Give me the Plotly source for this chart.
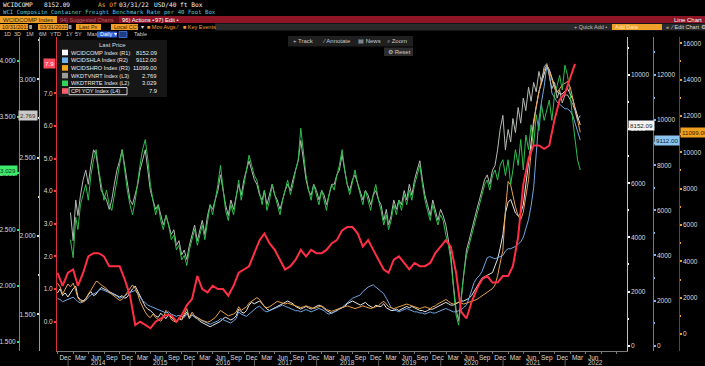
import pandas as pd
import plotly.graph_objects as go

W, H = 705, 366
SANS = 'Liberation Sans Narrow, Arial Narrow, Liberation Sans, Arial, sans-serif'
MONO = 'DejaVu Sans Mono, Liberation Mono, monospace'

# ---------------- data ----------------
# US CPI YoY (L4), month-end, Oct-2013 .. Feb-2022
cpi_yoy = [1.5, 1.1, 1.5,
           1.6, 1.1, 1.5, 2.0, 2.1, 2.1, 2.0, 1.7, 1.7, 1.7, 1.3, 0.8,
           -0.1, 0.0, -0.1, -0.2, 0.0, 0.1, 0.2, 0.2, 0.0, 0.2, 0.5, 0.7,
           1.4, 1.0, 0.9, 1.1, 1.0, 1.0, 0.8, 1.1, 1.5, 1.6, 1.7, 2.1,
           2.5, 2.7, 2.4, 2.2, 1.9, 1.6, 1.7, 1.9, 2.2, 2.0, 2.2, 2.1,
           2.1, 2.2, 2.4, 2.5, 2.8, 2.9, 2.9, 2.7, 2.3, 2.5, 2.2, 1.9,
           1.6, 1.5, 1.9, 2.0, 1.8, 1.6, 1.8, 1.7, 1.7, 1.8, 2.1, 2.3,
           2.5, 2.3, 1.5, 0.3, 0.1, 0.6, 1.0, 1.3, 1.4, 1.2, 1.2, 1.4,
           1.4, 1.7, 2.6, 4.2, 5.0, 5.4, 5.4, 5.3, 5.4, 6.2, 6.8, 7.0,
           7.5, 7.9]

# WCI composite (R1), semi-monthly from 31-Oct-2013
wcidcomp = [1950, 2100, 1850, 1950, 1800,
            1950, 2100, 2200, 1800, 1700, 1650, 1750, 1900, 2000, 1850, 1900, 2050, 2150, 2100, 2050, 2000, 1950, 1900, 1850, 1800, 1850, 1750, 1800, 1950,
            2100, 2200, 2000, 1800, 1600, 1450, 1350, 1300, 1200, 1100, 1050, 1200, 1100, 1000, 1150, 1050, 950, 900, 1000, 950, 1100, 1250, 1000, 1150,
            1050, 1000, 900, 850, 800, 750, 700, 750, 800, 850, 900, 1000, 1050, 1000, 950, 1000, 1100, 1350, 1250, 1200, 1300, 1500, 1600, 1550,
            1600, 1650, 1550, 1450, 1350, 1300, 1350, 1400, 1450, 1500, 1550, 1600, 1650, 1600, 1550, 1450, 1400, 1350, 1400, 1450, 1400, 1350, 1400, 1450,
            1500, 1450, 1350, 1300, 1250, 1200, 1250, 1300, 1350, 1400, 1450, 1550, 1600, 1650, 1600, 1550, 1500, 1550, 1600, 1500, 1450, 1400, 1500, 1450,
            1450, 1550, 1400, 1350, 1300, 1300, 1350, 1300, 1350, 1400, 1450, 1400, 1450, 1400, 1350, 1300, 1300, 1250, 1300, 1350, 1350, 1400, 1450, 1500,
            1550, 1600, 1550, 1500, 1500, 1550, 1600, 1650, 1650, 1700, 1750, 1850, 2000, 2200, 2350, 2500, 2550, 2600, 2650, 2700, 2950, 3200, 3600, 4100,
            4900, 5300, 5400, 5200, 4900, 4800, 4900, 5200, 5900, 6700, 7500, 8300, 8900, 9400, 9700, 10000, 10350, 10200, 9900, 9600, 9400, 9300, 9300, 9400,
            9500, 9300, 9100, 8800, 8500, 8152.09]

# Shanghai - Los Angeles (R2)
wcidshla = [2100, 2050, 1950, 2000, 2050,
            2100, 2150, 2050, 1950, 1900, 1950, 2000, 2150, 2250, 2300, 2350, 2450, 2500, 2450, 2400, 2350, 2300, 2250, 2200, 2100, 2150, 2200, 2300, 2350,
            2400, 2450, 2300, 2150, 2000, 1900, 1800, 1750, 1700, 1650, 1600, 1550, 1500, 1450, 1500, 1400, 1350, 1300, 1350, 1300, 1250, 1400, 1300, 1350,
            1300, 1250, 1150, 1100, 1050, 1000, 950, 1000, 1050, 1100, 1200, 1150, 1100, 1050, 1000, 1100, 1200, 1500, 1400, 1350, 1300, 1400, 1500, 1600,
            1700, 1750, 1650, 1550, 1500, 1550, 1600, 1650, 1700, 1750, 1800, 1750, 1700, 1650, 1600, 1550, 1550, 1500, 1550, 1600, 1550, 1500, 1550, 1600,
            1650, 1600, 1550, 1450, 1400, 1450, 1500, 1550, 1650, 1700, 1800, 1900, 2000, 2100, 2150, 2200, 2250, 2400, 2500, 2600, 2650, 2700, 2600, 2500,
            2400, 2300, 2100, 1900, 1700, 1600, 1550, 1500, 1550, 1600, 1650, 1600, 1550, 1500, 1500, 1450, 1450, 1400, 1450, 1500, 1450, 1450, 1500, 1550,
            1600, 1650, 1600, 1550, 1500, 1500, 1550, 1600, 1700, 1800, 2100, 2500, 2800, 3000, 3100, 3300, 3600, 3900, 3950, 3900, 3850, 3900, 3950, 4000,
            4200, 4300, 4300, 4350, 4400, 4500, 4600, 4800, 5200, 5600, 6200, 7000, 8500, 10000, 10800, 11500, 12400, 12100, 11200, 11000, 10800, 10700, 10600, 10500,
            10500, 10400, 10200, 9900, 9500, 9112.00]

# Shanghai - Rotterdam (R3)
wcidshro = [2800, 2600, 2200, 2500, 2750,
            2600, 2800, 2400, 2000, 1800, 1750, 1900, 2200, 2400, 2700, 2900, 2850, 2700, 2600, 2500, 2300, 2200, 2100, 2000, 1850, 1900, 2100, 2300, 2500,
            2700, 2500, 2200, 1800, 1500, 1200, 1000, 900, 1100, 900, 800, 700, 900, 1300, 1100, 800, 700, 650, 900, 800, 1100, 1400, 900, 1200,
            1000, 900, 800, 750, 700, 650, 700, 800, 900, 1100, 1300, 1200, 1100, 1000, 1050, 1100, 1200, 1500, 1300, 1400, 1500, 1700, 1800, 1900,
            2000, 1900, 1700, 1500, 1450, 1500, 1600, 1700, 1800, 1750, 1700, 1650, 1700, 1650, 1600, 1550, 1500, 1450, 1500, 1550, 1500, 1450, 1400, 1450,
            1500, 1550, 1450, 1350, 1300, 1250, 1300, 1350, 1400, 1450, 1500, 1550, 1500, 1450, 1400, 1450, 1500, 1550, 1500, 1450, 1400, 1450, 1500, 1550,
            1700, 1800, 1650, 1500, 1450, 1400, 1450, 1500, 1550, 1600, 1650, 1600, 1550, 1500, 1450, 1400, 1450, 1500, 1450, 1400, 1500, 1550, 1650, 1750,
            1850, 1900, 1800, 1700, 1650, 1700, 1750, 1700, 1650, 1700, 1750, 1800, 1850, 1900, 2000, 2100, 2200, 2300, 2400, 2500, 2700, 3200, 3900, 4600,
            6800, 8400, 8200, 7600, 7000, 6500, 6300, 6700, 7500, 8500, 10000, 11500, 12500, 13300, 14000, 14500, 14800, 14500, 14000, 13500, 13300, 13500, 13700, 13800,
            13900, 13600, 13000, 12400, 11800, 11099.00]

# WKDTVNRT (L3), semi-monthly from 15-Jan-2014
wkdtvnrt = [2.15, 1.97, 2.23, 2.13, 2.26, 2.36, 2.42, 2.33, 2.45, 2.55, 2.52, 2.39, 2.29, 2.26, 2.23, 2.17, 2.23, 2.33, 2.42, 2.48, 2.55, 2.45, 2.33, 2.23,
            2.20, 2.26, 2.33, 2.42, 2.48, 2.55, 2.42, 2.29, 2.23, 2.17, 2.20, 2.13, 2.07, 2.13, 2.07, 2.01, 2.04, 1.94, 1.97, 1.88, 1.91, 1.85, 1.94, 2.01,
            2.07, 1.97, 2.04, 2.10, 2.01, 2.13, 2.20, 2.17, 2.23, 2.29, 2.39, 2.29, 2.20, 2.13, 2.23, 2.17, 2.26, 2.33, 2.26, 2.36, 2.42, 2.48, 2.42, 2.36,
            2.33, 2.26, 2.23, 2.29, 2.20, 2.26, 2.33, 2.26, 2.23, 2.17, 2.23, 2.29, 2.33, 2.29, 2.36, 2.42, 2.48, 2.61, 2.48, 2.36, 2.29, 2.26, 2.33, 2.29,
            2.23, 2.29, 2.26, 2.20, 2.26, 2.33, 2.33, 2.39, 2.42, 2.52, 2.42, 2.33, 2.29, 2.36, 2.39, 2.33, 2.29, 2.23, 2.29, 2.26, 2.20, 2.26, 2.29, 2.23,
            2.20, 2.10, 2.17, 2.07, 2.13, 2.23, 2.17, 2.23, 2.20, 2.29, 2.23, 2.33, 2.26, 2.36, 2.42, 2.48, 2.36, 2.26, 2.20, 2.13, 2.23, 2.17, 2.10, 2.17,
            2.13, 2.07, 1.97, 1.88, 1.69, 1.53, 1.46, 1.62, 1.78, 1.91, 1.97, 2.04, 2.10, 2.17, 2.23, 2.29, 2.36, 2.39, 2.33, 2.42, 2.45, 2.55, 2.68, 2.77,
            2.55, 2.68, 2.60, 2.75, 2.66, 2.82, 2.72, 2.88, 2.80, 2.95, 2.86, 2.98, 2.92, 3.05, 2.98, 3.08, 3.10, 3.02, 2.94, 2.98, 2.88, 2.93, 2.85, 2.90,
            2.90, 2.87, 2.84, 2.80, 2.74, 2.769]

# WKDTRRTE (L2), semi-monthly from 15-Jan-2014
wkdtrrte = [2.41, 2.25, 2.61, 2.50, 2.72, 2.81, 2.90, 2.76, 2.98, 3.12, 3.21, 3.03, 2.90, 2.76, 2.85, 2.72, 2.67, 2.81, 2.94, 3.07, 3.21, 3.03, 2.85, 2.72,
            2.63, 2.76, 2.94, 3.07, 3.21, 3.30, 3.12, 2.90, 2.76, 2.63, 2.72, 2.58, 2.50, 2.63, 2.54, 2.41, 2.45, 2.32, 2.36, 2.23, 2.27, 2.18, 2.32, 2.41,
            2.50, 2.36, 2.45, 2.54, 2.41, 2.58, 2.72, 2.63, 2.76, 2.90, 3.07, 2.85, 2.67, 2.58, 2.72, 2.63, 2.81, 2.94, 2.76, 2.90, 3.03, 3.16, 3.07, 2.98,
            2.94, 2.81, 2.72, 2.85, 2.67, 2.76, 2.90, 2.81, 2.72, 2.63, 2.76, 2.85, 2.94, 2.81, 2.90, 3.03, 3.12, 3.40, 3.21, 2.98, 2.85, 2.76, 2.90, 2.81,
            2.72, 2.85, 2.76, 2.67, 2.81, 2.90, 2.85, 2.98, 3.07, 3.21, 3.03, 2.90, 2.81, 2.94, 3.03, 2.90, 2.81, 2.72, 2.85, 2.76, 2.67, 2.81, 2.90, 2.76,
            2.67, 2.54, 2.63, 2.50, 2.58, 2.72, 2.63, 2.76, 2.67, 2.81, 2.72, 2.85, 2.76, 2.90, 2.98, 3.07, 2.90, 2.76, 2.67, 2.58, 2.72, 2.63, 2.54, 2.63,
            2.58, 2.45, 2.36, 2.23, 1.96, 1.74, 1.65, 1.87, 2.10, 2.27, 2.36, 2.45, 2.54, 2.63, 2.72, 2.81, 2.90, 2.94, 2.85, 2.98, 3.03, 2.94, 3.07, 3.12,
            2.98, 3.12, 2.90, 3.03, 3.21, 3.07, 3.30, 3.03, 3.34, 3.21, 3.43, 3.25, 3.52, 3.38, 3.61, 3.47, 3.56, 3.65, 3.47, 3.70, 3.78, 3.87, 3.74, 3.96,
            3.87, 3.70, 3.47, 3.30, 3.12, 3.029]

month_labels = ['Dec', 'Mar', 'Jun', 'Sep']
year_labels = ['2014', '2015', '2016', '2017', '2018', '2019', '2020', '2021', '2022']

legend_names = ['WCIDCOMP Index (R1)', 'WCIDSHLA Index (R2)', 'WCIDSHRO Index (R3)',
                'WKDTVNRT Index (L3)', 'WKDTRRTE Index (L2)', 'CPI YOY Index (L4)']
legend_values = ['8152.09', '9112.00', '11099.00', '2.769', '3.029', '7.9']

# ---------------- dates ----------------
semi = pd.offsets.SemiMonthEnd()
mend = pd.offsets.MonthEnd()
d_cpi = pd.date_range('2013-10-31', periods=len(cpi_yoy), freq=mend)
d_comp = pd.date_range('2013-10-31', periods=len(wcidcomp), freq=semi)
d_shla = pd.date_range('2013-10-31', periods=len(wcidshla), freq=semi)
d_shro = pd.date_range('2013-10-31', periods=len(wcidshro), freq=semi)
d_vn = pd.date_range('2014-01-15', periods=len(wkdtvnrt), freq=semi)
d_rr = pd.date_range('2014-01-15', periods=len(wkdtrrte), freq=semi)

# colours
C_WHITE, C_BLUE, C_ORANGE = '#e6e6e6', '#6ea6e0', '#e9a24a'
C_GREY, C_GREEN, C_RED = '#b4bab4', '#2fbf4e', '#ff2f45'

fig = go.Figure()
fig.add_trace(go.Scatter(x=d_comp, y=wcidcomp, yaxis='y', mode='lines', line=dict(color=C_WHITE, width=1)))
fig.add_trace(go.Scatter(x=d_shla, y=wcidshla, yaxis='y2', mode='lines', line=dict(color=C_BLUE, width=1)))
fig.add_trace(go.Scatter(x=d_shro, y=wcidshro, yaxis='y3', mode='lines', line=dict(color=C_ORANGE, width=1)))
fig.add_trace(go.Scatter(x=d_vn, y=wkdtvnrt, yaxis='y4', mode='lines', line=dict(color=C_GREY, width=1)))
fig.add_trace(go.Scatter(x=d_rr, y=wkdtrrte, yaxis='y5', mode='lines', line=dict(color=C_GREEN, width=1)))
fig.add_trace(go.Scatter(x=d_cpi, y=cpi_yoy, yaxis='y6', mode='lines', line=dict(color=C_RED, width=2)))

# ---------------- layout geometry (pixels) ----------------
X_L, X_R = 57, 626.7
Y_T, Y_B = 37, 350.7
dom_y = [1 - Y_B / H, 1 - Y_T / H]
tickfont = dict(family=SANS, size=6.5, color='#dcdcdc')


def yax(rng, tickvals, fmt, linecolor, tickcolor, side, anchor='free', pos=None, minor=None, overlay=True):
    d = dict(range=rng, domain=dom_y, side=side, showgrid=False, zeroline=False,
             showline=True, linecolor=linecolor, linewidth=1,
             ticks='outside', ticklen=2, tickwidth=1.5, tickcolor=tickcolor,
             tickmode='array', tickvals=tickvals,
             ticktext=[format(v, fmt) for v in tickvals], tickfont=tickfont,
             anchor=anchor)
    if pos is not None:
        d['position'] = pos
    if overlay:
        d['overlaying'] = 'y'
    if minor is not None:
        d['minor'] = dict(ticks='outside', ticklen=1.5, tickcolor=tickcolor, dtick=minor, showgrid=False)
    return d


ticks_r1 = [0, 2000, 4000, 6000, 8000, 10000]
ticks_r2 = [0, 2000, 4000, 6000, 8000, 10000, 12000]
ticks_r3 = [0, 2000, 4000, 6000, 8000, 10000, 12000, 14000, 16000]
ticks_l3 = [1.5, 2.0, 2.5, 3.0]
ticks_l2 = [1.5, 2.0, 2.5, 3.0, 3.5, 4.0]
ticks_l4 = [0.0, 1.0, 2.0, 3.0, 4.0, 5.0, 6.0, 7.0]

layout_axes = dict(
    yaxis=yax([-185, 11404], ticks_r1, 'd', '#bdbdbd', '#ffffff', 'right', anchor='x', minor=1000, overlay=False),
    yaxis2=yax([-222, 13684], ticks_r2, 'd', '#5f7f9f', '#7fb4ea', 'right', pos=652.7 / W, minor=1000),
    yaxis3=yax([-919, 16347], ticks_r3, 'd', '#6e4418', '#f0a030', 'right', pos=678.7 / W, minor=1000),
    yaxis4=yax([1.268, 3.270], ticks_l3, '.3f', '#9a9a9a', '#dddddd', 'left', pos=39 / W, minor=0.25),
    yaxis5=yax([1.423, 4.211], ticks_l2, '.3f', '#2fb84a', '#3ee060', 'left', pos=19 / W),
    yaxis6=yax([-0.889, 8.725], ticks_l4, '.1f', '#e0303f', '#ff3a4a', 'left', anchor='x'),
)

tick_dates = pd.date_range('2013-12-15', '2022-06-15', freq=pd.DateOffset(months=3))
tick_text = [month_labels[i % 4] for i in range(len(tick_dates))]

fig.update_layout(
    width=W, height=H, margin=dict(l=0, r=0, t=0, b=0),
    paper_bgcolor='#000000', plot_bgcolor='#000000', showlegend=False,
    xaxis=dict(type='date', domain=[X_L / W, X_R / W], range=['2013-10-28', '2022-12-29'],
               showgrid=False, zeroline=False, showline=True, linecolor='#7a7a7a', linewidth=1,
               tickmode='array', tickvals=list(tick_dates), ticktext=tick_text, ticks='', tickfont=tickfont,
               minor=dict(ticks='outside', ticklen=2, tickcolor='#777777', dtick='M3', tick0='2013-11-01')),
    **layout_axes,
)

shapes, anns = [], []


def rect(x0, y0, x1, y1, fill, line=None, lw=0):
    shapes.append(dict(type='rect', xref='paper', yref='paper', x0=x0 / W, x1=x1 / W,
                       y0=1 - y1 / H, y1=1 - y0 / H, fillcolor=fill,
                       line=dict(color=line or fill, width=lw), layer='above'))


def text(x, y, s, color='#d0d0d0', size=6.5, anchor='left', family=SANS):
    anns.append(dict(xref='paper', yref='paper', x=x / W, y=1 - y / H, text=s, showarrow=False,
                     xanchor=anchor, yanchor='middle', borderpad=0,
                     font=dict(family=family, size=size, color=color)))


def flag(x, anchor, yref, yval, s, bg, fg):
    anns.append(dict(xref='paper', yref=yref, x=x / W, y=yval, text=s, showarrow=False,
                     xanchor=anchor, yanchor='middle', bgcolor=bg, borderpad=1,
                     font=dict(family=SANS, size=6.2, color=fg)))


# ---- header ----
text(2, 4.5, 'WCIDCOMP', '#f2f2f2', 6.2, family=MONO)
text(43, 4.5, '8152.09', '#f2f2f2', 6.2, family=MONO)
text(97, 4.5, 'As Of', '#f0a030', 6.2, family=MONO)
text(118, 4.5, '03/31/22', '#f2f2f2', 6.2, family=MONO)
text(153, 4.5, 'USD/40 ft Box', '#f2f2f2', 6.2, family=MONO)
text(2, 12.3, 'WCI Composite Container Freight Benchmark Rate per 40 Foot Box', '#5cc6dc', 5.7, family=MONO)

rect(0, 16, W, 23, '#8e1526')
rect(0, 16, 57, 23, '#eea02a')
text(2, 19.5, 'WCIDCOMP Index', '#3a2200', 6)
rect(57, 16, 119, 23, '#5e0c16')
text(59, 19.5, '94) Suggested Charts', '#b06070', 5.5)
text(121, 19.5, '96) Actions •', '#ffffff', 5.8)
text(154, 19.5, '97) Edit •', '#ffffff', 5.8)
text(703, 19.5, 'Line Chart', '#ffffff', 6, anchor='right')

rect(215, 23.5, W, 30.5, '#2a2a2a')
rect(0, 24, 28, 30, '#eea02a'); text(1, 27, '10/31/2013', '#3a2200', 5.5)
rect(29, 25, 32, 29, '#9a9a9a')
rect(38, 24, 68, 30, '#eea02a'); text(39, 27, '03/31/2022', '#3a2200', 5.5)
rect(68.5, 25, 71.5, 29, '#9a9a9a')
rect(76, 24, 101, 30, '#eea02a'); text(78, 27, 'Last Px', '#3a2200', 5.5)
rect(111, 24, 138, 30, '#eea02a'); text(113, 27, 'Local CCY', '#3a2200', 5.5)
text(140, 27, '▾', '#dddddd', 5.5)
text(146, 27, '■ Mov Avgs ⁄', '#f0a030', 5.5)
text(182, 27, '■ Key Events', '#f0a030', 5.5)
text(608, 27, '+ Quick Add •', '#bdbdbd', 5.5, anchor='right')
rect(612, 24, 662, 30, '#eea02a'); text(614, 27, 'Add Data', '#ffe9b0', 5.5)
text(665, 27, '«  ⁄ Edit Chart ⚙', '#dddddd', 5.5)

for lbl, xx in [('1D', 3), ('3D', 13), ('1M', 25), ('6M', 38), ('YTD', 49), ('1Y', 65), ('5Y', 74), ('Max', 86)]:
    text(xx, 34.5, lbl, '#cfcfcf', 5.5)
rect(97, 31.5, 117, 37.5, '#2d5fd6'); text(99, 34.5, 'Daily ▾', '#ffffff', 5.5)
rect(119, 31.5, 127, 37.5, '#1d3d8a', '#4a7ae0', 0.8)
text(133, 34.5, 'Table', '#cfcfcf', 5.5)

# ---- chart toolbar ----
rect(288, 36, 413, 46.5, '#1f1f1f')
text(292, 41.2, '+ Track', '#c8c8c8', 6)
text(321, 41.2, '⁄ Annotate', '#c8c8c8', 6)
text(357, 41.2, '▤ News', '#c8c8c8', 6)
text(386, 41.2, '⌕ Zoom', '#c8c8c8', 6)
rect(384, 47.5, 413, 56, '#2c2c2c')
text(387, 51.8, '⚙ Reset', '#c8c8c8', 6)

# ---- legend box ----
rect(58, 40, 167, 97, '#161616')
text(112, 45.5, 'Last Price', '#dddddd', 6, anchor='center')
sq_colors = ['#ffffff', '#6fb3f0', '#f5a623', '#9b9b9b', '#35d25a', '#ff5c6c']
for i, (nm, val, c) in enumerate(zip(legend_names, legend_values, sq_colors)):
    yy = 52.5 + i * 7.7
    rect(62, yy - 2.8, 68, yy + 2.8, c)
    text(70, yy, nm, '#e8e8e8', 5.6)
    text(158, yy, val, '#e8e8e8', 5.8, anchor='right')
rect(69, 87.5, 127, 94.7, 'rgba(0,0,0,0)', '#ffffff', 0.8)

# ---- last-value flags on axes ----
flag(56, 'right', 'y6', cpi_yoy[-1], '7.9', '#ff4d5e', '#ffffff')
flag(38, 'right', 'y4', wkdtvnrt[-1], '2.769', '#c9c9c9', '#333333')
flag(17.5, 'right', 'y5', wkdtrrte[-1], '3.029', '#3ee86a', '#0c3a18')
flag(628, 'left', 'y', wcidcomp[-1], '8152.09', '#f4f4f4', '#222222')
flag(654, 'left', 'y2', wcidshla[-1], '9112.00', '#8cc4f0', '#10263a')
flag(680, 'left', 'y3', wcidshro[-1], '11099.00', '#f0a020', '#3a2200')

# ---- year labels and separators ----
for yl in year_labels:
    anns.append(dict(xref='x', yref='paper', x=f'{yl}-07-01', y=1 - 362.5 / H, text=yl, showarrow=False,
                     xanchor='center', yanchor='middle', borderpad=0,
                     font=dict(family=SANS, size=6.5, color='#d0d0d0')))
    shapes.append(dict(type='line', xref='x', yref='paper', x0=f'{yl}-01-01', x1=f'{yl}-01-01',
                       y0=0, y1=1 - 358 / H, line=dict(color='#5a5a5a', width=1)))

fig.update_layout(shapes=shapes, annotations=anns)
fig.write_html('out.html',
               config={'displayModeBar': False},
               post_script="document.body.style.margin='0';document.body.style.padding='0';"
                           "document.body.style.background='#000';")
